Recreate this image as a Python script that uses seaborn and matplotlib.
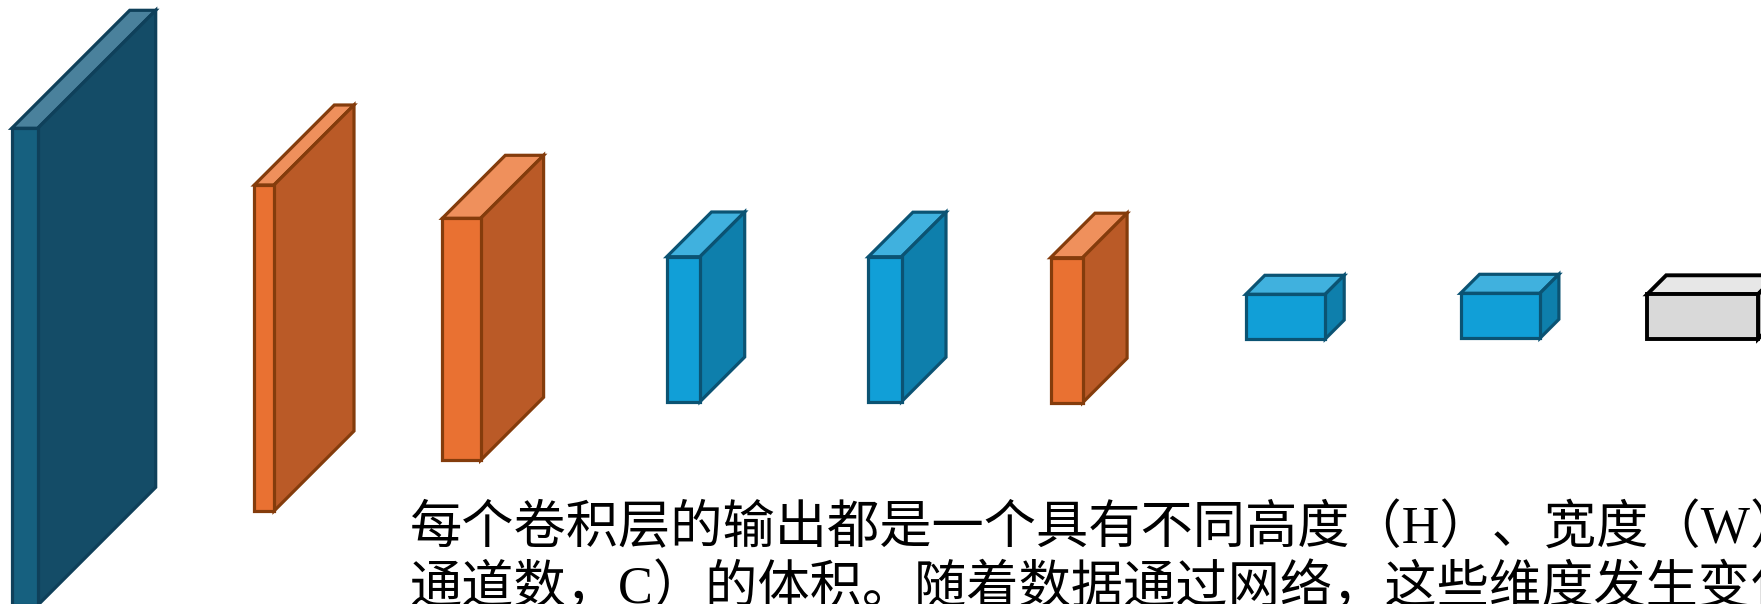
import numpy as np
import pandas as pd
import seaborn as sns
import matplotlib.pyplot as plt
from matplotlib.patches import Polygon

# layer boxes, in pixel units of the 1761x604 canvas (front face + depth offset)
box_x = [11.7, 254.3, 442.3, 666.8, 868.4, 1050.5, 1245.8, 1460.5, 1647.2]
box_w = [26.0, 19.7, 38.3, 33.2, 33.1, 32.1, 79.4, 79.4, 110.8]
box_top = [128.3, 185.0, 218.3, 256.7, 256.7, 257.7, 294.3, 293.3, 294.3]
box_h = [477.0, 326.0, 242.0, 145.0, 145.0, 145.0, 44.7, 45.0, 44.7]
box_d = [118.0, 80.0, 63.0, 44.7, 44.5, 44.5, 19.0, 19.0, 19.0]
box_kind = ['input', 'pool', 'pool', 'conv', 'conv', 'pool', 'conv', 'conv', 'out']

line1 = "每个卷积层的输出都是一个具有不同高度（H）、宽度（W）和深度（"
line2 = "通道数，C）的体积。随着数据通过网络，这些维度发生变化。"

# front, top, side, edge
palette = {
    'input': ('#16607f', '#4a819c', '#144c67', '#0f405a'),
    'pool': ('#e97132', '#ef905c', '#ba5a27', '#843c0c'),
    'conv': ('#119fd7', '#40b1de', '#0e7fac', '#0b5373'),
    'out': ('#d9d9d9', '#e7e7e7', '#b0b0b0', '#000000'),
}

df = pd.DataFrame({'x': box_x, 'w': box_w, 'top': box_top, 'h': box_h,
                   'd': box_d, 'kind': box_kind})

sns.set_style("white")
plt.rcParams['font.family'] = ['Liberation Serif', 'Noto Sans CJK SC', 'DejaVu Sans']

fig = plt.figure(figsize=(17.61, 6.04), dpi=100)
ax = fig.add_axes([0, 0, 1, 1])
ax.set_xlim(0, 1761)
ax.set_ylim(604, 0)
ax.axis('off')

for _, r in df.iterrows():
    front, topc, side, edge = palette[r.kind]
    lw = 2.8 if r.kind == 'out' else 2.3
    x0, x1 = r.x, r.x + r.w
    y0, y1 = r.top, r.top + r.h
    d = r.d
    top_face = [(x0, y0), (x1, y0), (x1 + d, y0 - d), (x0 + d, y0 - d)]
    side_face = [(x1, y0), (x1 + d, y0 - d), (x1 + d, y1 - d), (x1, y1)]
    front_face = [(x0, y0), (x1, y0), (x1, y1), (x0, y1)]
    for pts, c in [(top_face, topc), (side_face, side), (front_face, front)]:
        ax.add_patch(Polygon(pts, closed=True, facecolor=c, edgecolor=edge,
                             linewidth=lw, joinstyle='miter'))

ax.text(410, 530, line1, fontsize=37.6, va='center', ha='left', color='black')
ax.text(410, 589, line2, fontsize=37.6, va='center', ha='left', color='black')

sns.despine(left=True, bottom=True)
fig.savefig('out.png', dpi=100)
